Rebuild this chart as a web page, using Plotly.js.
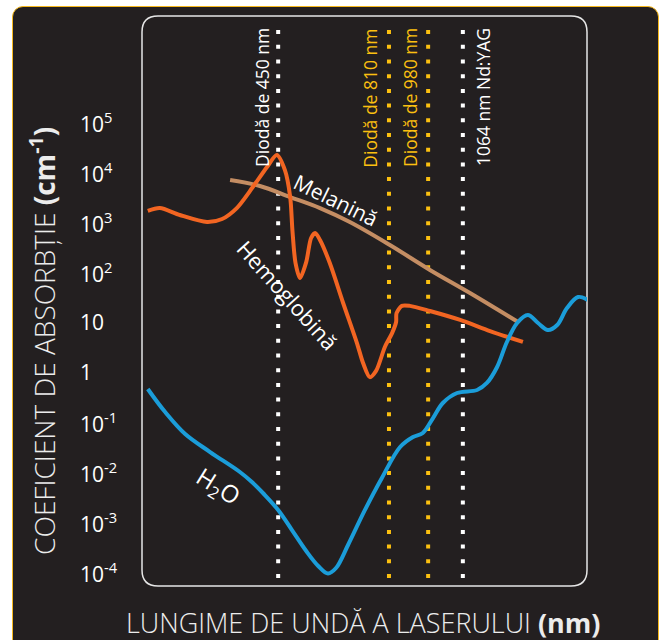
<!DOCTYPE html>
<html><head><meta charset="utf-8">
<script src="https://cdn.plot.ly/plotly-3.0.1.min.js"></script>
<style>
html,body{margin:0;padding:0;background:#fff;width:664px;height:640px;overflow:hidden;}
#panel{position:absolute;left:12px;top:6px;width:645px;height:700px;background:#231f20;border:1.5px solid #f6b81c;border-radius:11px;}
#chart{position:absolute;left:0;top:0;width:664px;height:640px;}
</style></head>
<body><div id="panel"></div><div id="chart"></div>
<script>
// ---- data (x is a schematic position along the wavelength axis, 0-100) ----
const hbX = [1.3,4.0,8.5,14.6,18.0,21.3,24.9,28.1,30.3,32.1,33.3,33.8,34.5,35.5,36.9,38.0,38.9,40.0,42.2,45.2,48.3,49.7,51.2,52.6,54.6,56.2,57.1,57.2,58.4,60.2,64.7,71.5,78.2,85.6];
const hbY = [1660,1900,1380,1000,1150,1900,5000,12600,21900,11000,3160,690,151,76,158,479,603,437,151,24,3.8,1.5,0.79,1.05,3.2,6.0,10,15,21,21,16.6,11,6.6,4.0];

const melX = [19.8,26.5,33.3,40.0,46.7,55.7,64.7,73.7,84.5];
const melY = [6900,5250,3160,1900,1000,347,110,38,10];

const h2oX = [1.3,5.2,9.7,15.3,22.0,24.7,27.4,30.6,33.7,36.9,39.6,41.8,43.6,46.3,50.1,53.9,58.0,60.9,63.1,65.4,67.6,70.8,75.3,77.5,79.8,82.0,84.3,86.7,89.0,91.2,93.3,95.5,98.0,100.2];
const h2oY = [0.457,0.158,0.0575,0.0251,0.01,0.0063,0.00363,0.00174,0.00069,0.000263,0.000132,0.0000933,0.00012,0.000347,0.00174,0.00759,0.0316,0.0501,0.0603,0.12,0.24,0.38,0.437,0.603,1.26,3.98,9.55,13.8,9.55,6.92,8.7,19,31.6,27.5];

const laserNm = [450, 810, 980, 1064];
const laserX = [30.6, 55.5, 64.3, 72.1];
const laserLabels = ['Diodă de 450 nm','Diodă de 810 nm','Diodă de 980 nm','1064 nm Nd:YAG'];

const curveLabels = ['Melanină','Hemoglobină','H<sub>2</sub>O'];

const yTickVals = [1e-4,1e-3,1e-2,1e-1,1,10,1e2,1e3,1e4,1e5];
const yTickText = ['10<sup>-4</sup>','10<sup>-3</sup>','10<sup>-2</sup>','10<sup>-1</sup>','1','10','10<sup>2</sup>','10<sup>3</sup>','10<sup>4</sup>','10<sup>5</sup>'];

const yTitle = 'COEFICIENT DE ABSORBȚIE <b>(cm<sup>-1</sup>)</b>';
const xTitle = 'LUNGIME DE UNDĂ A LASERULUI <b>(nm)</b>';

// ---- styles ----
const FONT = 'Open Sans, Noto Sans, sans-serif';
const WHITE = '#ffffff';
const GOLD = '#fcc010';
const laserColor = [WHITE, GOLD, GOLD, WHITE];
const laserShift = [-16, -19, -18, 20];

const traces = [
  {x: melX, y: melY, mode:'lines', name:'Melanină', line:{color:'#c48d63', width:4, shape:'spline', smoothing:1}, hoverinfo:'skip'},
  {x: hbX, y: hbY, mode:'lines', name:'Hemoglobină', line:{color:'#f26522', width:4, shape:'spline', smoothing:0.8}, hoverinfo:'skip'},
  {x: h2oX, y: h2oY, mode:'lines', name:'H2O', line:{color:'#1b9dd9', width:4, shape:'spline', smoothing:1}, hoverinfo:'skip'}
];

const shapes = [];
const rx = 16/445, ry = 16/570;
shapes.push({type:'path', xref:'paper', yref:'paper', layer:'below',
  path:`M ${rx},0 L ${1-rx},0 Q 1,0 1,${ry} L 1,${1-ry} Q 1,1 ${1-rx},1 L ${rx},1 Q 0,1 0,${1-ry} L 0,${ry} Q 0,0 ${rx},0 Z`,
  line:{color:'#e6e6e6', width:1.5}});
laserX.forEach((lx,i)=>{
  shapes.push({type:'line', xref:'x', yref:'paper', x0:lx, x1:lx, y0:0.014, y1:0.988, layer:'below',
    line:{color:laserColor[i], width:4, dash:'4px,10.7px'}});
});

const annotations = [];
yTickVals.forEach((v,i)=>{
  annotations.push({x:-0.1438, xref:'paper', xanchor:'left', y:Math.log10(v), yref:'y', yanchor:'middle',
    text:yTickText[i], showarrow:false, font:{family:FONT, size:21, color:WHITE}});
});
laserX.forEach((lx,i)=>{
  annotations.push({x:lx, xref:'x', xanchor:'center', xshift:laserShift[i], y:0.982, yref:'paper', yanchor:'top',
    text:laserLabels[i], textangle:-90, showarrow:false, font:{family:FONT, size:17.5, color:laserColor[i]}});
});
// curve labels
annotations.push({x:43.6, y:3.45, xref:'x', yref:'y', text:curveLabels[0], textangle:26, showarrow:false, font:{family:FONT, size:21, color:WHITE}});
annotations.push({x:32.8, y:1.54, xref:'x', yref:'y', text:curveLabels[1], textangle:48, showarrow:false, font:{family:FONT, size:22, color:WHITE}});
annotations.push({x:17.1, y:-2.3, xref:'x', yref:'y', text:curveLabels[2], textangle:32, showarrow:false, font:{family:FONT, size:24, color:WHITE}});
// axis titles
annotations.push({x:-0.2225, xref:'paper', xanchor:'center', y:0.43, yref:'paper', yanchor:'middle', text:yTitle, textangle:-90, showarrow:false,
  font:{family:FONT, size:28, color:'#ececec', weight:300}});
annotations.push({x:0.497, xref:'paper', xanchor:'center', y:-0.064, yref:'paper', yanchor:'middle', text:xTitle, showarrow:false,
  font:{family:FONT, size:27, color:'#ececec', weight:300}});

const layout = {
  width:664, height:640,
  margin:{l:142, r:77, t:16, b:54},
  paper_bgcolor:'rgba(0,0,0,0)', plot_bgcolor:'rgba(0,0,0,0)',
  showlegend:false,
  xaxis:{range:[0,100], showgrid:false, zeroline:false, showticklabels:false, showline:false, ticks:''},
  yaxis:{type:'log', range:[-4.28, 7.12], showgrid:false, zeroline:false, showticklabels:false, showline:false, ticks:''},
  shapes, annotations,
  font:{family:FONT, color:WHITE}
};
Plotly.newPlot('chart', traces, layout, {displayModeBar:false, staticPlot:true});
</script></body></html>
